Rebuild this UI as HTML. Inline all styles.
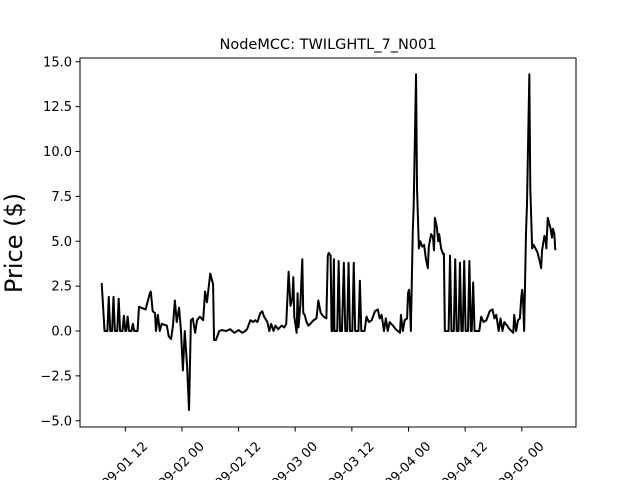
<!DOCTYPE html>
<html><head><meta charset="utf-8"><style>
html,body{margin:0;background:#fff;width:640px;height:480px;overflow:hidden}
svg{display:block;overflow:hidden;font-family:"DejaVu Sans","Liberation Sans",sans-serif}
</style></head><body>
<svg id="chart" width="640" height="480" viewBox="0 0 640 480" xmlns="http://www.w3.org/2000/svg">
<rect width="640" height="480" fill="#fff"/>
<text x="328" y="49" font-size="14.5" text-anchor="middle">NodeMCC: TWILGHTL_7_N001</text>
<text transform="translate(22,243) rotate(-90)" font-size="24" text-anchor="middle">Price ($)</text>
<g id="ticks"></g>
<path id="series" fill="none" stroke="#000" stroke-width="2" stroke-linejoin="round"/>
<rect x="80" y="58" width="496" height="369" fill="none" stroke="#000" stroke-width="1"/>
</svg>
<script>
const hours=[7.0,7.6,8.2,8.5,8.8,9.2,9.5,9.8,10.3,10.6,10.9,11.4,11.7,12.0,12.2,12.5,12.8,13.3,13.6,13.9,14.6,14.9,16.3,17.2,17.4,17.8,18.3,18.5,18.9,19.3,19.7,20.8,21.2,21.7,22.1,22.5,22.9,23.4,23.8,24.2,24.6,25.1,25.5,25.9,26.3,26.8,27.2,27.8,28.5,28.9,29.3,30.0,30.6,30.8,31.2,31.9,32.5,33.4,34.2,35.1,36.0,36.8,37.4,37.8,38.5,39.1,39.5,40.0,40.6,41.0,41.4,42.1,42.5,42.9,43.4,43.8,44.4,45.1,45.7,46.1,46.6,47.0,47.4,47.6,47.8,48.3,48.5,48.7,49.1,49.5,49.7,50.0,50.4,50.8,51.2,51.9,52.5,52.9,53.4,54.0,54.6,54.9,55.1,55.5,55.7,55.9,56.2,56.3,56.9,57.2,57.5,57.9,58.3,58.6,59.0,59.3,59.6,60.1,60.4,60.7,61.4,61.7,62.0,62.7,63.1,63.6,64.2,64.9,65.5,65.9,66.3,66.8,67.2,67.6,68.0,68.7,69.3,70.2,70.4,70.8,71.2,71.7,71.9,72.1,72.3,72.5,72.9,73.1,73.6,73.8,74.2,74.5,74.9,75.3,75.7,76.1,76.3,76.8,77.2,77.4,77.6,78.0,78.3,78.5,78.9,79.3,79.5,79.7,80.5,80.8,81.1,81.6,81.9,82.2,82.6,82.9,83.2,83.5,83.8,84.1,84.6,84.9,85.2,85.4,85.7,86.0,87.0,87.4,87.9,88.5,89.2,89.8,90.2,90.6,91.1,91.5,91.9,92.3,92.9,93.4,94.2,94.4,94.8,95.2,95.6,95.9,96.1,96.3,96.5,96.9,97.1,97.6,97.8,98.2,98.5,98.9,99.3,99.7,100.1,100.3,100.8,101.0,101.2,101.5,101.8,102.1,102.4,102.6,102.9,103.1];
const prices=[2.67,0,0,1.9,0,0,1.9,0,0,1.8,0,0,0.85,0,0,0.8,0,0,0.4,0,0,1.35,1.2,2.1,2.2,1.1,1.0,0,0.9,0,0.4,0.3,-0.3,-0.45,0.3,1.7,0.5,1.3,0.0,-2.2,0,-2,-4.4,0.6,0.7,-0.1,0.6,0.8,0.6,2.2,1.6,3.2,2.6,-0.5,-0.5,0,0.05,0,0.1,-0.1,0.05,-0.1,0,0.1,0.6,0.5,0.6,0.5,1.0,1.1,0.8,0.5,0,0.4,0,0.3,0.1,0.3,0.2,0.4,3.3,1.4,1.8,3.0,0.8,-0.1,2.1,0.2,1.5,4.0,1.0,0.9,0.5,0.3,0.4,0.6,0.7,1.7,1.0,0.8,0.7,4.2,4.35,4.2,0,0,4.0,0,0,3.9,0,0,3.8,0,0,3.8,0,0,3.8,0,0,2.8,0,0,0.8,0.5,0.6,1.1,1.2,0.7,0.9,0,0.7,0,0.5,0.3,0.1,-0.1,0.9,0,0.6,0.7,2.1,2.3,1.5,0,5.5,7,14.3,8,4.6,5.0,4.7,4.8,4.0,3.5,4.7,5.4,5.2,4.5,6.3,5.8,5.0,5.4,4.6,4.3,4.3,0,0,4.2,0,0,4.0,0,0,3.8,0,0,3.9,0,0,3.9,0,0,2.7,0,0,0.8,0.5,0.6,1.1,1.2,0.7,0.9,0,0.7,0,0.5,0.3,0.1,-0.1,0.9,0,0.6,0.7,1.9,2.3,1.5,0,5.5,7,14.3,8,4.6,4.8,4.6,4.4,4.0,3.5,4.5,5.3,5.2,4.6,6.3,6.0,5.7,5.2,5.7,5.4,4.5];
const xTickHours=[12,24,36,48,60,72,84,96];
const xTickLabels=["2020-09-01 12","2020-09-02 00","2020-09-02 12","2020-09-03 00","2020-09-03 12","2020-09-04 00","2020-09-04 12","2020-09-05 00"];
const yTickValues=[-5,-2.5,0,2.5,5,7.5,10,12.5,15];
const yTickLabels=["−5.0","−2.5","0.0","2.5","5.0","7.5","10.0","12.5","15.0"];

function xScale(h){return 125.3+(h-12)*4.72;}
function yScale(v){return 331-v*17.95;}
const NS="http://www.w3.org/2000/svg";
const g=document.getElementById('ticks');
function mk(tag,attrs){const e=document.createElementNS(NS,tag);for(const k in attrs)e.setAttribute(k,attrs[k]);return e;}
xTickHours.forEach((h,i)=>{
  const x=xScale(h);
  const t=mk('line',{x1:x,x2:x,y1:427,y2:431.5,stroke:'#000','stroke-width':1});
  
  
  g.appendChild(t);
  const l=mk('text',{transform:`translate(${x+23},${447}) rotate(-45)`,'font-size':'13','text-anchor':'end'});
  l.textContent=xTickLabels[i];
  
  
  g.appendChild(l);
});
yTickValues.forEach((v,i)=>{
  const y=yScale(v);
  const t=mk('line',{x1:75.5,x2:80,y1:y,y2:y,stroke:'#000','stroke-width':1});
  
  
  g.appendChild(t);
  const l=mk('text',{x:72,y:y+4.5,'font-size':'13','text-anchor':'end'});
  l.textContent=yTickLabels[i];
  
  
  g.appendChild(l);
});
let d='';
hours.forEach((h,i)=>{d+=(i?'L':'M')+xScale(h).toFixed(2)+','+yScale(prices[i]).toFixed(2);});
document.getElementById('series').setAttribute('d',d);
</script>
</body></html>
